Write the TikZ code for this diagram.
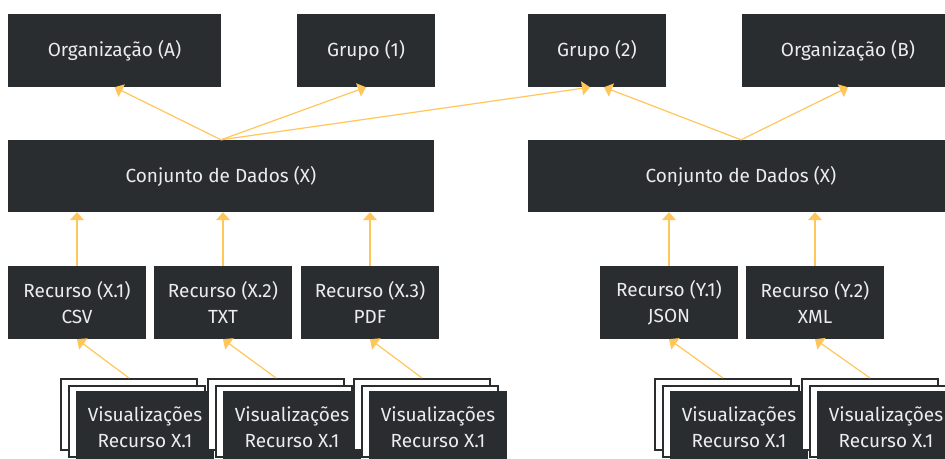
\documentclass[tikz,border=0pt]{standalone}
\usepackage{fontspec}
\setmainfont{Fira Sans}
\usetikzlibrary{arrows.meta,positioning}

\definecolor{boxdark}{HTML}{2A2D30}
\definecolor{boxtext}{HTML}{ECECEC}
\definecolor{linkyellow}{HTML}{FFC65C}

\begin{document}
\begin{tikzpicture}[x=1pt, y=-1pt,
  box/.style={rectangle, fill=boxdark, text=boxtext, inner sep=0pt,
    minimum height=73pt, align=center, font=\fontsize{19}{26}\selectfont},
  backbox/.style={rectangle, draw=boxdark, line width=2pt, fill=white, inner sep=0pt,
    minimum width=136pt, minimum height=71pt},
  link/.style={draw=linkyellow, line width=1.2pt, -{Triangle[width=14pt,length=8pt]}}]
\useasboundingbox (0,0) rectangle (945,458);
\clip (0,0) rectangle (945,458);

% Organizations and groups
\node[box, minimum width=213pt] (orgA) at (114.5,50.5) {Organização (A)};
\node[box, minimum width=138pt] (grp1) at (366,50.5) {Grupo (1)};
\node[box, minimum width=138pt] (grp2) at (597,50.5) {Grupo (2)};
\node[box, minimum width=213pt] (orgB) at (848,50.5) {Organização (B)};

% Datasets
\node[box, minimum width=426pt, minimum height=72pt] (dsX) at (221,176) {Conjunto de Dados (X)};
\node[box, minimum width=426pt, minimum height=72pt] (dsY) at (741,176) {Conjunto de Dados (X)};

% Resources
\node[box, minimum width=138pt] (resX1) at (77,302.5) {Recurso (X.1)\\CSV};
\node[box, minimum width=138pt] (resX2) at (223,302.5) {Recurso (X.2)\\TXT};
\node[box, minimum width=138pt] (resX3) at (370,302.5) {Recurso (X.3)\\PDF};
\node[box, minimum width=138pt] (resY1) at (669,302.5) {Recurso (Y.1)\\JSON};
\node[box, minimum width=138pt] (resY2) at (815,302.5) {Recurso (Y.2)\\XML};

% Visualization stacks (two paper sheets behind each one)
\foreach \name/\x in {visX1/145, visX2/292, visX3/438, visY1/739, visY2/886} {
  \node[backbox] (\name c) at (\x-16,414.5) {};
  \node[backbox] (\name b) at (\x-8,421) {};
  \node[box, minimum width=138pt] (\name) at (\x,427.5) {Visualizações\\Recurso X.1};
}

% Dataset -> organization / group
\draw[link] (dsX.north) -- (orgA.south);
\draw[link] (dsX.north) -- (grp1.south);
\draw[link] (dsX.north) -- ([xshift=-7pt]grp2.south);
\draw[link] (dsY.north) -- ([xshift=7pt]grp2.south);
\draw[link] (dsY.north) -- (orgB.south);

% Resource -> dataset
\draw[link] (resX1.north) -- (resX1.north |- dsX.south);
\draw[link] (resX2.north) -- (resX2.north |- dsX.south);
\draw[link] (resX3.north) -- (resX3.north |- dsX.south);
\draw[link] (resY1.north) -- (resY1.north |- dsY.south);
\draw[link] (resY2.north) -- (resY2.north |- dsY.south);

% Visualization -> resource
\draw[link] (visX1c.north) -- (resX1.south);
\draw[link] (visX2c.north) -- (resX2.south);
\draw[link] (visX3c.north) -- (resX3.south);
\draw[link] (visY1c.north) -- (resY1.south);
\draw[link] (visY2c.north) -- (resY2.south);
\end{tikzpicture}
\end{document}
